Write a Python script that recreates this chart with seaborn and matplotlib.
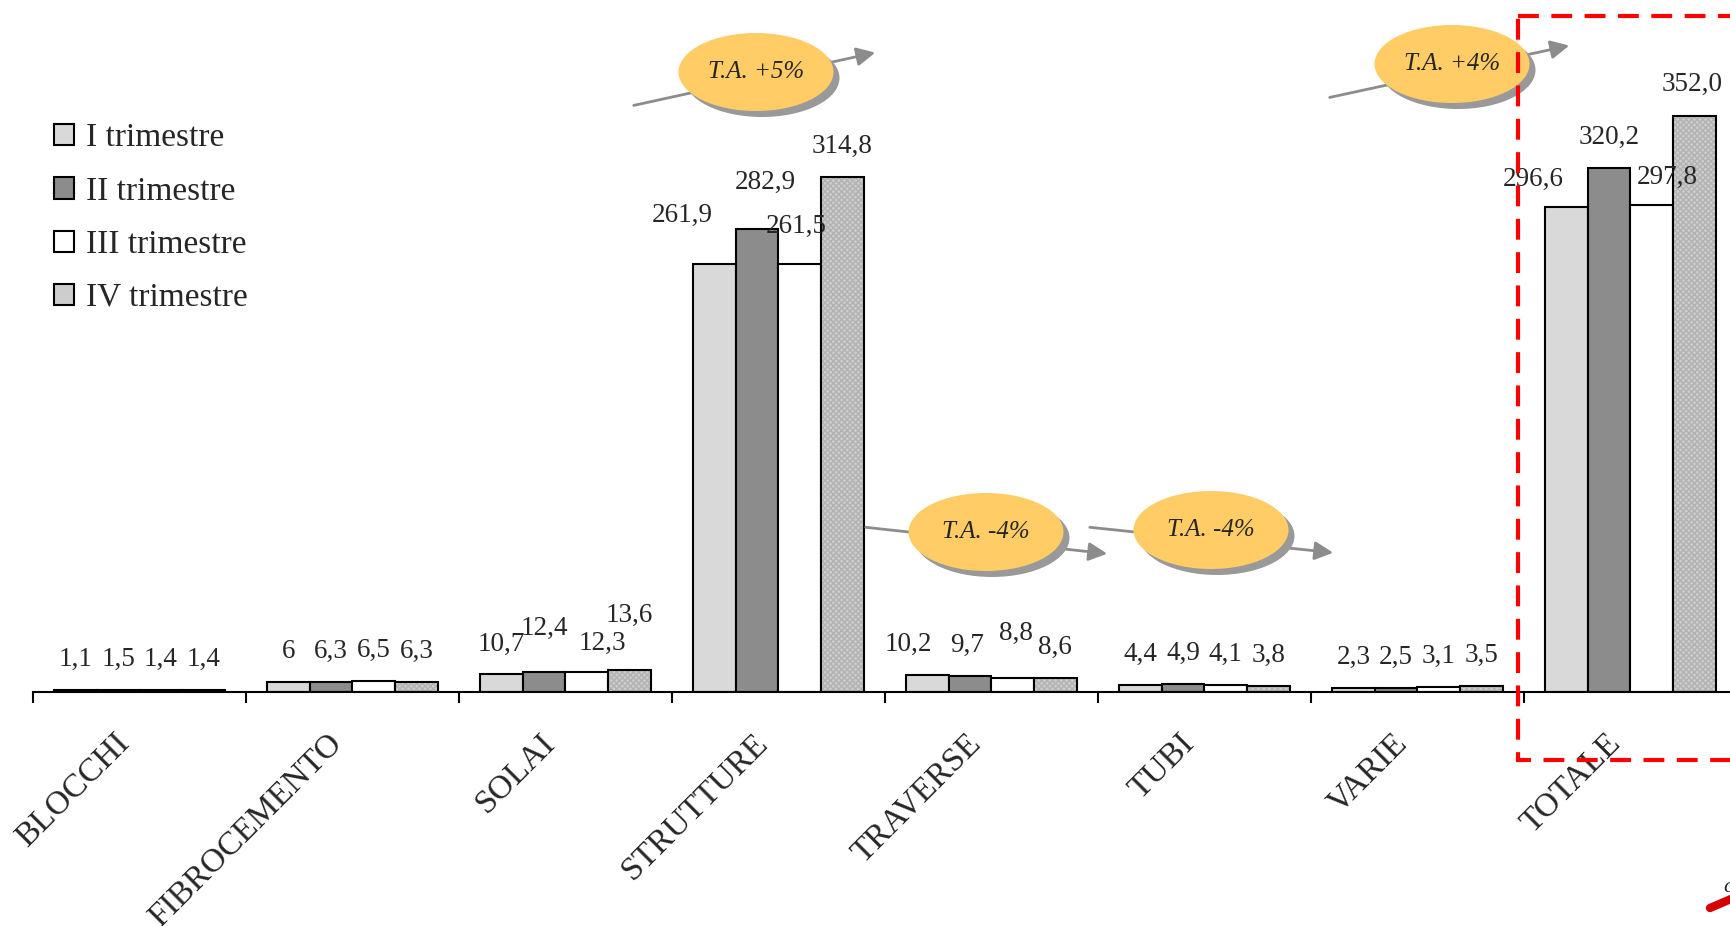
import numpy as np
import pandas as pd
import matplotlib
matplotlib.use("Agg")
import matplotlib.pyplot as plt
from matplotlib.patches import Ellipse, Rectangle, Patch
import seaborn as sns

# data
categorie = ["BLOCCHI", "FIBROCEMENTO", "SOLAI", "STRUTTURE", "TRAVERSE", "TUBI", "VARIE", "TOTALE"]
trimestri = ["I trimestre", "II trimestre", "III trimestre", "IV trimestre"]
trim_1 = [1.1, 6, 10.7, 261.9, 10.2, 4.4, 2.3, 296.6]
trim_2 = [1.5, 6.3, 12.4, 282.9, 9.7, 4.9, 2.5, 320.2]
trim_3 = [1.4, 6.5, 12.3, 261.5, 8.8, 4.1, 3.1, 297.8]
trim_4 = [1.4, 6.3, 13.6, 314.8, 8.6, 3.8, 3.5, 352.0]
tassi = ["T.A. +5%", "T.A. -4%", "T.A. -4%", "T.A. +4%"]

colori = ["#d9d9d9", "#8c8c8c", "#ffffff", "#cdcdcd"]

df = pd.DataFrame({
    "categoria": np.repeat(categorie, 4),
    "trimestre": trimestri * len(categorie),
    "valore": np.column_stack([trim_1, trim_2, trim_3, trim_4]).ravel(),
})

sns.set_style("white")
plt.rcParams["font.family"] = ["Liberation Serif", "DejaVu Serif"]

W, H = 1731, 926
fig = plt.figure(figsize=(W / 100, H / 100), dpi=100)
ax = fig.add_axes([33 / W, 1 - 692 / H, 1704 / W, 692 / H])

sns.barplot(data=df, x="categoria", y="valore", hue="trimestre", order=categorie,
            hue_order=trimestri, palette=colori, saturation=1, width=0.8,
            edgecolor="black", linewidth=1.5, legend=False, ax=ax)

# fine texture on the IV quarter bars
for bar in ax.containers[3]:
    bar.set_hatch("xxxxxx")
    bar.set_edgecolor("#b2b2b2")
    bar.set_linewidth(0)
    ax.add_patch(Rectangle(bar.get_xy(), bar.get_width(), bar.get_height(),
                           fill=False, ec="black", lw=1.5, zorder=bar.get_zorder() + 0.1))

ax.set_xlim(-0.5, 7.5)
ax.set_ylim(0, 423)
ax.set_xlabel("")
ax.set_ylabel("")
ax.set_yticks([])
for s in ["left", "top", "right"]:
    ax.spines[s].set_visible(False)
ax.spines["bottom"].set_color("black")
ax.spines["bottom"].set_linewidth(1.5)

ax.set_xticks(np.arange(len(categorie)))
ax.set_xticklabels([])
ax.tick_params(axis="x", which="major", length=0)
ax.set_xticks(np.arange(-0.5, 8, 1), minor=True)
ax.tick_params(axis="x", which="minor", bottom=True, length=8, width=1.5,
               color="black", direction="out")

for i, cat in enumerate(categorie):
    ax.annotate(cat, xy=(i, 0), xycoords=ax.get_xaxis_transform(), xytext=(-3, -26),
                textcoords="offset points", rotation=45, ha="right", va="top", fontsize=24)

# value labels (manual nudges as in the original)
spost = {(2, 1): (0, 9.5), (2, 2): (11, -1.5), (2, 3): (0, 17),
         (3, 0): (-23, 13), (3, 1): (5.5, 11.5), (3, 2): (-2.4, 5.5),
         (4, 0): (-13.5, 0), (4, 1): (-2, 0), (4, 2): (2.4, 10),
         (7, 0): (-24, -2.4), (7, 2): (11, -2), (7, 3): (-1.5, 0.5)}
for j, cont in enumerate(ax.containers):
    for i, bar in enumerate(cont):
        v = bar.get_height()
        testo = f"{v:.1f}" if categorie[i] == "TOTALE" else f"{v:g}"
        dx, dy = spost.get((i, j), (0, 0))
        ax.annotate(testo.replace(".", ","), xy=(bar.get_x() + bar.get_width() / 2, v),
                    xytext=(dx, 22 + dy), textcoords="offset points",
                    ha="center", va="center", fontsize=19.5)

handles = [Patch(facecolor=c, edgecolor="black", linewidth=1.5) for c in colori]
fig.legend(handles, trimestri, loc="upper left", bbox_to_anchor=(54 / W, 1 - 123 / H),
           frameon=False, fontsize=24, handlelength=0.6, handleheight=0.6,
           handletextpad=0.35, labelspacing=0.68, borderpad=0, borderaxespad=0)

# overlay in pixel coordinates for the callouts
ov = fig.add_axes([0, 0, 1, 1])
ov.set_xlim(0, W)
ov.set_ylim(H, 0)
ov.axis("off")
ov.patch.set_alpha(0)

ellissi = [(756, 72), (986, 532), (1211, 530), (1452, 64)]
frecce = [((631, 106), (878, 52)), ((863, 527), (1110, 554)),
          ((1087, 527), (1336, 553)), ((1327, 98), (1572, 45))]
for testo, (cx, cy), (p0, p1) in zip(tassi, ellissi, frecce):
    ov.annotate("", xy=p1, xytext=p0,
                arrowprops=dict(arrowstyle="-|>", color="#8c8c8c", lw=2, mutation_scale=28),
                zorder=1)
    ov.add_patch(Ellipse((cx + 6, cy + 6), 155, 78, fc="#999999", ec="none", zorder=2))
    ov.add_patch(Ellipse((cx, cy), 155, 78, fc="#ffcc66", ec="none", zorder=3))
    ov.text(cx, cy, testo, ha="center", va="center", fontsize=18, style="italic", zorder=4)

ov.add_patch(Rectangle((1518, 15.5), 400, 744.5, fill=False, ec="#ff0000", lw=3,
                       linestyle=(0, (5, 3)), zorder=5))

# cut-off logo at the bottom right
ov.plot([1710, 1731], [908, 899], color="#d40000", lw=6, solid_capstyle="round")
ov.text(1728, 888, "c", fontsize=16, style="italic", ha="center", va="center")

fig.savefig("out.png", dpi=100)
